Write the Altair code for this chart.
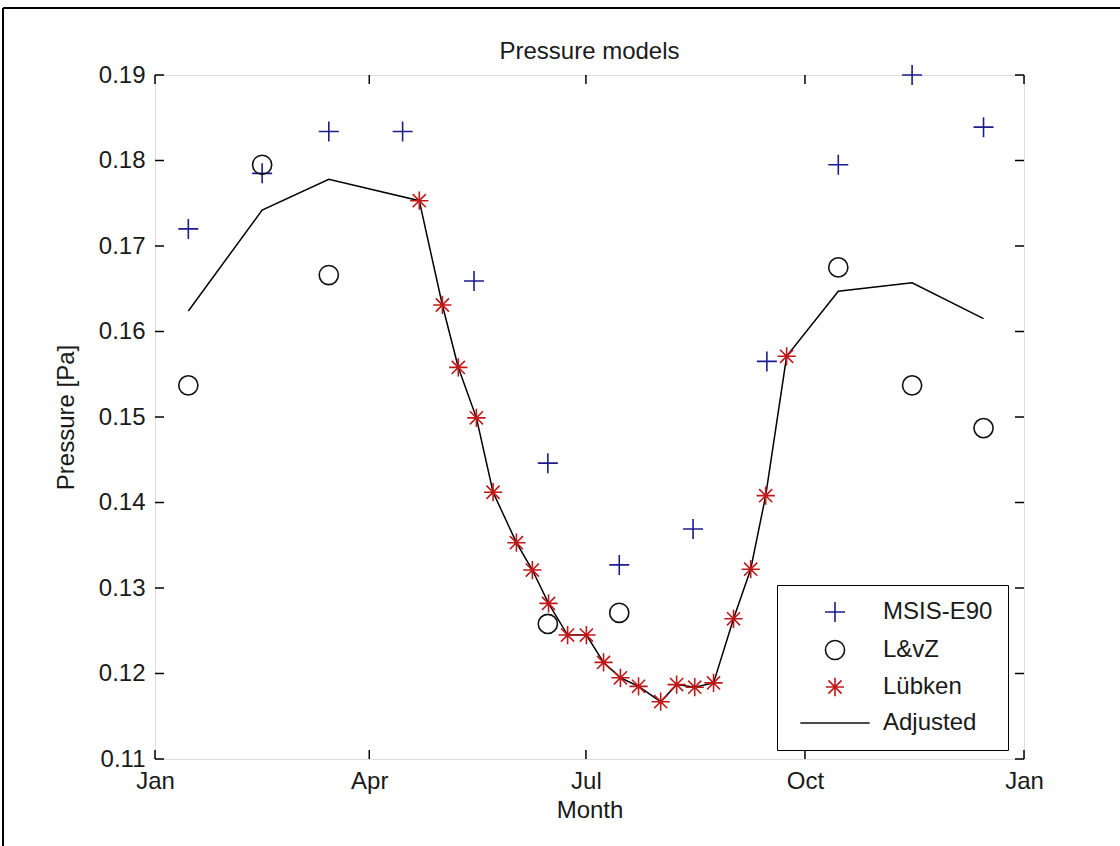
import altair as alt
import pandas as pd

FONT = "Liberation Sans"
INK = "#1a1a1a"
FS = 24

# ---- data (x = day of year, Jan 1 = 0) ----
month_days = [14, 45, 73, 104, 134, 165, 195, 226, 257, 287, 318, 348]
msis = [0.1720, 0.1785, 0.1834, 0.1834, 0.1659, 0.1446, 0.1327, 0.1369,
        0.1565, 0.1795, 0.1900, 0.1839]

lvz_days = [14, 45, 73, 165, 195, 287, 318, 348]
lvz = [0.1537, 0.1795, 0.1666, 0.1258, 0.1271, 0.1675, 0.1537, 0.1487]

lubken_days = [111, 120.7, 127.4, 135, 142, 151.8, 158.5, 165.3, 173.3, 181.2,
               188.4, 195.5, 203.1, 212.4, 219.1, 226.7, 234.6, 243, 250.2,
               256.5, 265.3]
lubken = [0.1753, 0.1631, 0.1558, 0.1499, 0.1412, 0.1353, 0.1321, 0.1282,
          0.1245, 0.1245, 0.1213, 0.1195, 0.1185, 0.1167, 0.1187, 0.1184,
          0.1189, 0.1264, 0.1322, 0.1408, 0.1571]

adj_days = [14, 45, 73, 111, 120.7, 127.4, 135, 142, 151.8, 158.5, 165.3,
            173.3, 181.2, 188.4, 195.5, 203.1, 212.4, 219.1, 226.7, 234.6,
            243, 250.2, 256.5, 265.3, 287, 318, 348]
adjusted = [0.1624, 0.1742, 0.1778, 0.1753, 0.1631, 0.1558, 0.1499, 0.1412,
            0.1353, 0.1321, 0.1282, 0.1245, 0.1245, 0.1213, 0.1195, 0.1185,
            0.1167, 0.1187, 0.1184, 0.1189, 0.1264, 0.1322, 0.1408, 0.1571,
            0.1647, 0.1657, 0.1615]

series_names = ["MSIS-E90", "L&vZ", "Lübken", "Adjusted"]
series_colors = ["#1c1c8c", "#111111", "#c01818", "#111111"]
plus_path = "M-1,0H1M0,-1V1"
star_path = "M-1,0H1M0,-1V1M-0.72,-0.72L0.72,0.72M-0.72,0.72L0.72,-0.72"
line_path = "M-4,0H4"
series_shapes = [plus_path, "circle", star_path, line_path]
series_sizes = [400, 300, 330, 400]

x_tick_days = [0, 90, 181, 273, 365]
x_tick_labels = ["Jan", "Apr", "Jul", "Oct", "Jan"]
y_ticks = [0.11, 0.12, 0.13, 0.14, 0.15, 0.16, 0.17, 0.18, 0.19]
title_text = "Pressure models"

W, H = 869, 684

# ---- tables ----
pts = pd.concat([
    pd.DataFrame({"day": month_days, "p": msis, "series": "MSIS-E90"}),
    pd.DataFrame({"day": lvz_days, "p": lvz, "series": "L&vZ"}),
    pd.DataFrame({"day": lubken_days, "p": lubken, "series": "Lübken"}),
], ignore_index=True)
adj_df = pd.DataFrame({"day": adj_days, "p": adjusted})
xt_df = pd.DataFrame({"day": x_tick_days})
yt_df = pd.DataFrame({"p": y_ticks})

# label expression for month ticks
expr = "'" + x_tick_labels[-1] + "'"
for d, lab in reversed(list(zip(x_tick_days[:-1], x_tick_labels[:-1]))):
    expr = f"datum.value <= {d} ? '{lab}' : ({expr})"

xscale = alt.Scale(domain=[0, 365], nice=False, zero=False)
yscale = alt.Scale(domain=[0.11, 0.19], nice=False, zero=False)

x_axis = alt.Axis(values=x_tick_days, labelExpr=expr, title="Month",
                  labelFlush=False, labelOverlap=False, labelPadding=10,
                  titlePadding=5)
y_axis = alt.Axis(values=y_ticks, format=".2f", title="Pressure [Pa]",
                  labelPadding=10, titlePadding=20, labelOverlap=False)

legend = alt.Legend(title=None, orient="none", legendX=622, legendY=510,
                    strokeColor="black", fillColor="white", padding=15,
                    labelFontSize=FS, labelFont=FONT, labelColor=INK,
                    symbolStrokeWidth=1.6, symbolOffset=31, labelOffset=36,
                    rowPadding=11, labelLimit=300)

line = alt.Chart(adj_df).mark_line(color="black", strokeWidth=1.5).encode(
    x=alt.X("day:Q", scale=xscale, axis=x_axis),
    y=alt.Y("p:Q", scale=yscale, axis=y_axis),
)

points = alt.Chart(pts).mark_point(filled=False, strokeWidth=1.6, opacity=1).encode(
    x=alt.X("day:Q", scale=xscale, axis=x_axis),
    y=alt.Y("p:Q", scale=yscale, axis=y_axis),
    color=alt.Color("series:N", scale=alt.Scale(domain=series_names, range=series_colors), legend=legend),
    shape=alt.Shape("series:N", scale=alt.Scale(domain=series_names, range=series_shapes), legend=legend),
    size=alt.Size("series:N", scale=alt.Scale(domain=series_names, range=series_sizes), legend=legend),
)

TL = 9
yt_left = alt.Chart(yt_df).mark_rule(color="black", strokeWidth=1.5).encode(
    y=alt.Y("p:Q", scale=yscale, axis=y_axis), x=alt.value(0), x2=alt.value(TL))
yt_right = alt.Chart(yt_df).mark_rule(color="black", strokeWidth=1.5).encode(
    y=alt.Y("p:Q", scale=yscale, axis=y_axis), x=alt.value(W - TL), x2=alt.value(W))
xt_bot = alt.Chart(xt_df).mark_rule(color="black", strokeWidth=1.5).encode(
    x=alt.X("day:Q", scale=xscale, axis=x_axis), y=alt.value(H - TL), y2=alt.value(H))
xt_top = alt.Chart(xt_df).mark_rule(color="black", strokeWidth=1.5).encode(
    x=alt.X("day:Q", scale=xscale, axis=x_axis), y=alt.value(0), y2=alt.value(TL))

# outer figure frame (top and left edges of the screenshot) and title
frame_df = pd.DataFrame({"k": [0]})
frame_top = alt.Chart(frame_df).mark_rule(color="black", strokeWidth=2).encode(
    x=alt.value(-152), x2=alt.value(965), y=alt.value(-67))
frame_left = alt.Chart(frame_df).mark_rule(color="black", strokeWidth=2).encode(
    x=alt.value(-152), y=alt.value(-67), y2=alt.value(771))
title_mark = alt.Chart(pd.DataFrame({"t": [title_text]})).mark_text(
    font=FONT, fontSize=FS, color=INK, align="center", baseline="middle"
).encode(text="t:N", x=alt.value(W / 2), y=alt.value(-23))

chart = alt.layer(
    frame_top, frame_left, title_mark, line, points, yt_left, yt_right, xt_bot, xt_top
).properties(
    width=W, height=H,
    autosize=alt.AutoSizeParams(type="none"),
    padding={"left": 155, "top": 75, "right": 96, "bottom": 87},
).configure_view(
    stroke="black", strokeWidth=1.5, fill="white"
).configure(
    background="white"
).configure_axis(
    domain=False, ticks=False, grid=False,
    labelFont=FONT, labelFontSize=FS, labelColor=INK,
    titleFont=FONT, titleFontSize=FS, titleFontWeight="normal", titleColor=INK,
)

chart.save("out.html", embed_options={"renderer": "svg", "actions": False})
